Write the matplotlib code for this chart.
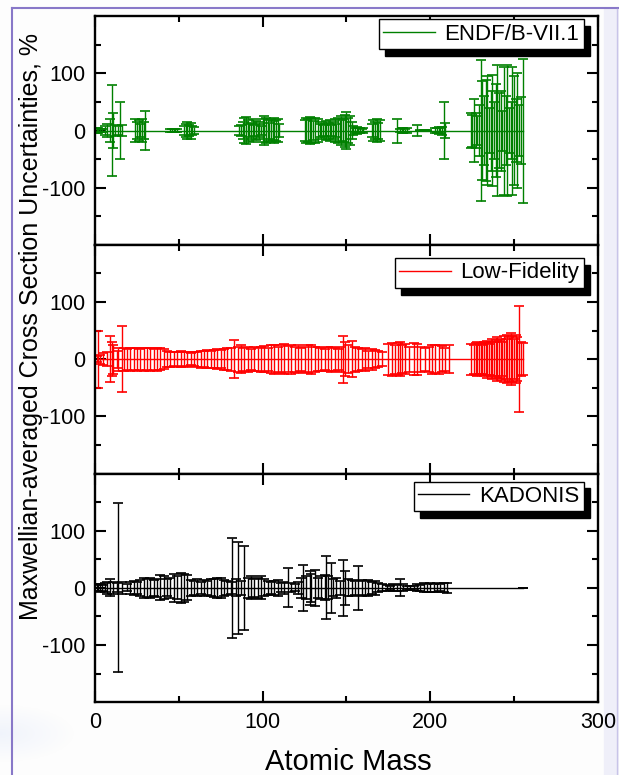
import matplotlib
matplotlib.use('Agg')
import matplotlib.pyplot as plt
import numpy as np
from matplotlib.lines import Line2D
from matplotlib.patches import Rectangle

plt.rcParams['font.family'] = 'Liberation Sans'
plt.rcParams['axes.unicode_minus'] = False

# MACS uncertainties (%) vs atomic mass, three libraries
endf_mass = [1, 2, 3, 4, 6, 7, 9, 10, 11, 12, 14, 15, 16,
             24, 25, 26, 27, 28, 29, 30,
             45, 46, 47, 48, 49, 53, 54, 55, 56, 57, 58, 59,
             86, 87, 88, 89, 90, 91, 92, 93, 94, 95, 96, 97, 98, 99, 100,
             101, 102, 103, 104, 105, 106, 107, 108, 109, 110,
             125, 126, 127, 128, 129, 130, 131, 133, 134, 135, 136,
             137, 138, 139, 140, 141, 142, 143, 144, 145, 146, 147, 148, 149,
             150, 151, 152, 153, 154, 155, 156, 157, 158, 159, 160,
             165, 166, 167, 168, 169, 170, 180, 182, 183, 184, 185, 186,
             192, 194, 196, 197, 198, 203, 204, 205, 206, 207, 208, 209,
             224, 225, 226, 227, 228, 229, 230, 231, 232, 233, 234, 235, 236,
             237, 238, 239, 240, 241, 242, 243, 244, 245, 246, 247, 248, 249,
             250, 251, 252, 253, 254, 255]
endf_unc = [4, 5, 3, 2, 8, 12, 20, 80, 30, 10, 8, 50, 10,
            20, 15, 18, 12, 20, 15, 34,
            2, 3, 2, 3, 2, 8, 12, 15, 10, 14, 8, 6,
            8, 10, 15, 22, 24, 18, 12, 14, 20, 10, 16, 12, 15, 8, 20,
            25, 22, 18, 14, 20, 16, 22, 18, 20, 12,
            18, 22, 20, 24, 22, 16, 22, 20, 12, 15, 10,
            12, 16, 14, 18, 10, 15, 20, 12, 22, 18, 25, 20, 28,
            33, 22, 26, 15, 8, 5, 6, 4, 5, 3, 4,
            12, 18, 15, 20, 14, 18, 21, 3, 4, 5, 3, 4,
            10, 1, 1, 1, 1, 4, 5, 6, 5, 7, 50, 13,
            30, 28, 55, 30, 25, 45, 123, 86, 60, 88, 95, 40, 70,
            97, 50, 82, 115, 65, 70, 35, 112, 60, 115, 40, 50, 112,
            95, 55, 100, 45, 59, 126]

lofi_mass = [1, 2, 3, 5, 7, 9, 10, 11, 13, 14, 16, 17, 19, 21, 23, 25, 27, 29,
             31, 33, 35, 37, 39, 41, 43, 45, 47, 49, 51, 53, 55, 57, 59, 61,
             63, 65, 67, 69, 71, 73, 75, 77, 79, 81, 83, 85, 87, 89, 91, 93,
             95, 97, 99, 101, 103, 105, 107, 109, 111, 113, 115, 117, 119,
             121, 123, 125, 127, 129, 131, 133, 135, 137, 139, 141, 143, 145,
             147, 148, 149, 151, 153, 155, 157, 159, 161, 163, 165, 167, 169,
             171, 175, 177, 179, 181, 182, 183, 185, 187, 190, 192, 194, 197,
             199, 201, 203, 205, 207, 209, 211,
             224, 226, 227, 228, 229, 230, 231, 232, 233, 234, 235, 236, 237,
             238, 239, 240, 241, 242, 243, 244, 245, 246, 247, 248, 249, 250,
             251, 252, 253, 254, 255]
lofi_unc = [5, 50, 8, 10, 12, 40, 30, 25, 15, 20, 58, 20, 18, 20, 19, 20, 18, 20,
            19, 20, 18, 20, 19, 17, 14, 13, 12, 13, 14, 12, 13, 11, 12, 13,
            15, 14, 16, 15, 16, 17, 16, 18, 19, 20, 33, 22, 24, 20, 22, 18,
            21, 20, 22, 23, 20, 24, 25, 22, 24, 26, 23, 25, 22,
            24, 20, 22, 24, 25, 22, 21, 20, 18, 21, 22, 20, 18,
            22, 41, 30, 24, 31, 22, 20, 18, 20, 15, 18, 16, 14,
            12, 27, 29, 25, 28, 30, 24, 26, 22, 28, 27, 22, 20,
            22, 25, 24, 25, 23, 20, 24,
            27, 25, 28, 30, 26, 28, 25, 30, 28, 32, 27, 30, 35,
            30, 33, 38, 32, 36, 30, 40, 35, 42, 38, 45, 40, 35,
            42, 38, 93, 30, 28]

kad_mass = [1, 2, 3, 4, 6, 7, 9, 11, 13, 14, 16, 19, 21, 23, 25, 27, 29, 31,
            33, 35, 37, 39, 41, 43, 45, 47, 49, 51, 53, 55, 57, 59, 61, 63,
            65, 67, 69, 71, 73, 75, 77, 79, 81, 82, 84, 85, 87, 89, 91, 93,
            95, 97, 99, 101, 103, 105, 107, 109, 111, 113, 115, 117, 119, 121,
            123, 124, 126, 128, 129, 131, 133, 135, 137, 138, 139, 141, 142,
            144, 146, 148, 149, 151, 153, 155, 157, 159, 161, 163, 165, 167,
            169, 171, 174, 176, 178, 180, 182, 184, 186, 188, 190, 192, 194,
            196, 198, 200, 202, 204, 206, 208, 210, 255]
kad_unc = [6, 5, 7, 5, 8, 10, 15, 10, 8, 148, 10, 6, 10, 12, 10, 14, 18, 16,
           18, 14, 16, 22, 20, 15, 18, 24, 20, 26, 25, 22, 14, 12, 15, 10,
           14, 12, 15, 16, 18, 17, 14, 12, 10, 88, 15, 80, 12, 73, 18, 20,
           16, 18, 20, 15, 12, 10, 12, 14, 8, 10, 34, 8, 6, 10,
           18, 40, 20, 30, 25, 32, 18, 20, 22, 55, 20, 44, 15,
           18, 12, 49, 30, 15, 14, 12, 38, 14, 12, 14, 10, 12,
           8, 6, 5, 4, 6, 5, 15, 6, 4, 3, 4, 6, 5,
           8, 7, 8, 7, 8, 6, 8, 9, 0]

series = [
    (endf_mass, endf_unc, '#008000', 'ENDF/B-VII.1', 0.987),
    (lofi_mass, lofi_unc, '#ff0000', 'Low-Fidelity', 0.943),
    (kad_mass, kad_unc, '#000000', 'KADONIS', 0.965),
]

fig, axes = plt.subplots(3, 1, sharex=True, figsize=(6.19, 7.75), dpi=100)
fig.patch.set_facecolor('#fdfdfd')
fig.subplots_adjust(left=0.1535, right=0.966, top=0.979, bottom=0.094, hspace=0)

for ax, (mass, unc, col, lab, ytop) in zip(axes, series):
    mass = np.array(mass)
    unc = np.array(unc)
    ax.errorbar(mass, np.zeros(len(mass)), yerr=unc, color=col, lw=1,
                elinewidth=1, capsize=3.6, capthick=1.2)
    h = Line2D([], [], color=col, lw=1)
    ax.legend([h], [lab], loc='upper right', bbox_to_anchor=(0.972, ytop),
              borderaxespad=0, fontsize=16, fancybox=False, framealpha=1,
              edgecolor='black', handlelength=2.3, handletextpad=0.45,
              borderpad=0.2,
              shadow={'ox': 4.5, 'oy': -5, 'color': 'black', 'alpha': 1})
    ax.set_xlim(0, 300)
    ax.set_ylim(-200, 200)
    ax.set_yticks([-100, 0, 100])
    ax.set_yticks([-150, -50, 50, 150], minor=True)
    ax.set_xticks([0, 100, 200, 300])
    ax.set_xticks([50, 150, 250], minor=True)
    ax.tick_params(which='both', direction='in', top=True, right=True,
                   width=1.5, labelsize=15.5, pad=7)
    ax.tick_params(which='major', length=8)
    ax.tick_params(which='minor', length=4.5)
    for s in ax.spines.values():
        s.set_linewidth(1.7)

fig.text(31 / 619, 1 - 327 / 775,
         'Maxwellian-averaged Cross Section Uncertainties, %',
         rotation=90, ha='center', va='center', fontsize=18)
fig.text(348 / 619, 1 - 770 / 775, 'Atomic Mass', ha='center',
         va='baseline', fontsize=21)

# slide decoration around the chart
fig.add_artist(Line2D([12 / 619, 12 / 619], [0, 1 - 8 / 775],
                      transform=fig.transFigure, color='#8878c8', lw=1.5))
fig.add_artist(Line2D([12 / 619, 1], [1 - 8 / 775, 1 - 8 / 775],
                      transform=fig.transFigure, color='#8878c8', lw=1.5))
fig.add_artist(Rectangle((604 / 619, 0), 15 / 619, 1 - 9 / 775,
                         transform=fig.transFigure, color='#efeff9',
                         zorder=-1))
fig.add_artist(Line2D([617 / 619, 617 / 619], [0, 1 - 9 / 775],
                      transform=fig.transFigure, color='#c8c4e8', lw=1))

glow = fig.add_axes([0, 0.015, 0.12, 0.075])
gx, gy = np.meshgrid(np.linspace(0, 1, 60), np.linspace(-1, 1, 40))
rgba = np.zeros((40, 60, 4))
rgba[..., 0] = 0.88
rgba[..., 1] = 0.91
rgba[..., 2] = 0.98
rgba[..., 3] = np.clip(1 - np.sqrt(gx ** 2 + gy ** 2), 0, 1) * 0.45
glow.imshow(rgba, aspect='auto', extent=(0, 1, 0, 1))
glow.set_axis_off()
glow.set_zorder(-2)

fig.savefig('out.png', dpi=100, facecolor=fig.get_facecolor())
